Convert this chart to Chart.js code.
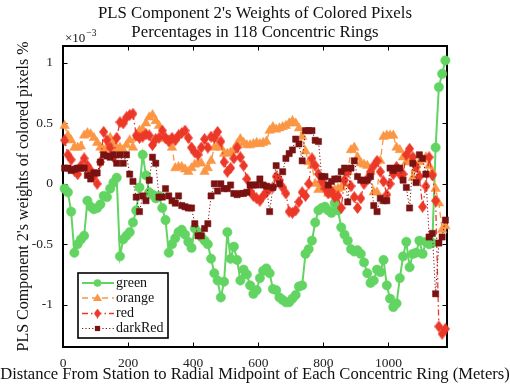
<!DOCTYPE html>
<html><head><meta charset="utf-8">
<script src="https://cdn.jsdelivr.net/npm/chart.js@4"></script>
<style>html,body{margin:0;padding:0;background:#fff;}</style>
</head><body>
<canvas id="c" width="510" height="390"></canvas>
<script>
// Ring radial midpoints (meters)
const distances = [5,15,25,35,45,55,65,75,85,95,105,115,125,135,145,155,165,175,185,195,
205,215,225,235,245,255,265,275,285,295,305,315,325,335,345,355,365,375,385,395,
405,415,425,435,445,455,465,475,485,495,505,515,525,535,545,555,565,575,585,595,
605,615,625,635,645,655,665,675,685,695,705,715,725,735,745,755,765,775,785,795,
805,815,825,835,845,855,865,875,885,895,905,915,925,935,945,955,965,975,985,995,
1005,1015,1025,1035,1045,1055,1065,1075,1085,1095,1105,1115,1125,1135,1145,1155,1165,1175];

// Weights (x 10^-3)
const green = [-0.04,-0.07,-0.23,-0.57,-0.50,-0.46,-0.43,-0.14,-0.19,-0.21,
-0.20,-0.17,-0.10,-0.11,-0.04,0.01,0.05,-0.60,-0.46,-0.43,
-0.40,-0.32,-0.22,-0.03,0.24,0.07,-0.07,-0.09,-0.12,-0.10,
-0.20,-0.30,-0.57,-0.50,-0.45,-0.40,-0.38,-0.42,-0.48,-0.53,
-0.37,-0.40,-0.44,-0.47,-0.50,-0.62,-0.74,-0.80,-0.94,-0.81,
-0.40,-0.62,-0.52,-0.63,-0.80,-0.71,-0.75,-0.84,-0.91,-0.88,
-0.78,-0.72,-0.70,-0.74,-0.87,-0.88,-0.94,-0.96,-0.98,-0.98,
-0.95,-0.92,-0.85,-0.84,-0.58,-0.54,-0.47,-0.32,-0.22,-0.20,
-0.19,-0.22,-0.24,-0.16,-0.22,-0.36,-0.42,-0.47,-0.54,-0.56,
-0.55,-0.58,-0.65,-0.74,-0.82,-0.80,-0.71,-0.73,-0.63,-0.84,
-0.95,-1.02,-0.99,-0.78,-0.60,-0.48,-0.69,-0.58,-0.57,-0.47,
-0.58,-0.48,-0.50,-0.49,0.30,0.80,0.91,1.02];

const orange = [0.48,0.40,0.36,0.30,0.30,0.31,0.40,0.42,0.41,0.38,
0.34,0.30,0.28,0.30,0.38,0.34,0.29,0.30,0.28,0.32,
0.36,0.30,0.38,0.44,0.45,0.50,0.55,0.57,0.52,0.48,
0.40,0.37,0.36,0.30,0.13,0.14,0.14,0.12,0.10,0.13,
0.16,0.17,0.17,0.10,0.13,0.19,0.30,0.31,0.30,0.25,
0.25,0.26,0.28,0.33,0.37,0.34,0.32,0.32,0.33,0.34,
0.33,0.34,0.35,0.44,0.47,0.45,0.46,0.47,0.48,0.50,
0.52,0.50,0.46,0.39,0.27,0.18,0.15,0.00,-0.05,-0.02,
-0.01,-0.08,-0.08,-0.05,-0.04,-0.03,0.00,0.10,0.28,0.30,
0.22,0.17,0.16,0.15,0.10,-0.07,-0.07,0.19,0.39,0.40,
0.40,0.40,0.30,0.28,0.22,0.18,0.18,0.05,0.12,0.18,
0.20,0.22,0.15,0.10,-0.04,-0.16,-0.38,-0.35];

const red = [0.36,0.24,0.20,0.11,0.08,0.15,0.21,0.15,0.11,0.06,
0.00,0.18,0.43,0.36,0.30,0.22,0.38,0.51,0.50,0.55,
0.57,0.58,0.40,0.38,0.39,0.41,0.40,0.32,0.37,0.38,
0.44,0.38,0.35,0.38,0.36,0.40,0.42,0.44,0.38,0.30,
0.26,0.24,0.30,0.37,0.30,0.39,0.38,0.43,0.35,0.18,
0.10,0.13,0.21,0.30,0.22,0.15,0.04,-0.06,-0.10,-0.12,
-0.14,-0.10,-0.07,-0.04,-0.03,0.06,0.03,-0.03,-0.08,-0.23,
-0.24,-0.22,-0.15,-0.07,-0.10,0.00,0.21,0.15,0.08,0.02,
-0.04,-0.08,-0.06,-0.11,-0.10,-0.20,0.03,0.10,-0.02,-0.11,
-0.20,-0.12,0.00,0.04,0.10,0.15,0.19,0.10,0.02,-0.09,
0.00,0.08,0.14,0.08,0.08,0.24,0.29,0.22,0.14,0.06,
-0.19,-0.02,0.22,0.07,-0.14,-1.18,-1.24,-1.20];

const darkRed = [0.13,0.13,0.11,0.12,0.13,0.13,0.13,0.07,0.04,0.09,
0.09,0.18,0.24,0.23,0.22,0.24,0.17,0.24,0.17,0.24,
0.08,0.02,-0.11,-0.23,-0.10,-0.14,0.03,0.22,0.17,-0.11,
-0.11,-0.04,-0.10,-0.14,-0.16,-0.10,-0.18,-0.19,-0.20,-0.20,
-0.33,-0.43,-0.43,-0.37,-0.33,-0.10,0.00,-0.06,0.00,-0.04,
-0.04,-0.01,-0.08,-0.09,-0.08,-0.08,-0.07,-0.01,-0.01,-0.01,
0.04,-0.01,-0.02,-0.23,-0.03,0.15,0.00,0.10,0.21,0.25,
0.28,0.37,0.33,0.19,0.44,0.44,0.44,0.36,0.35,0.06,
0.06,-0.01,0.02,0.04,0.04,0.10,0.13,-0.15,0.13,0.19,
0.06,0.03,0.03,0.03,0.06,-0.18,-0.23,-0.12,-0.14,-0.14,
0.13,0.11,0.13,0.13,0.03,-0.03,-0.20,0.17,0.01,0.24,
0.21,0.08,-0.44,-0.41,-0.91,-0.49,-0.44,-0.30];

const seriesNames = ['green','orange','red','darkRed'];
const xTicks = [0,200,400,600,800,1000];
const yTicks = [-1,-0.5,0,0.5,1];
const titleLines = ["PLS Component 2's Weights of Colored Pixels","Percentages in 118 Concentric Rings"];
const xTitle = "Distance From Station to Radial Midpoint of Each Concentric Ring (Meters)";
const yTitle = "PLS Component 2's weights of colored pixels %";

const C_GREEN = 'rgb(98,212,98)';
const C_ORANGE = 'rgb(250,150,68)';
const C_RED = 'rgb(236,56,40)';
const C_DARK = 'rgb(122,18,18)';
const FONT = '"Liberation Serif", "Times New Roman", serif';

function diamondCanvas(w, h, color) {
  const cv = document.createElement('canvas');
  cv.width = w; cv.height = h;
  const g = cv.getContext('2d');
  g.fillStyle = color;
  g.beginPath();
  g.moveTo(w/2, 0); g.lineTo(w, h/2); g.lineTo(w/2, h); g.lineTo(0, h/2); g.closePath();
  g.fill();
  return cv;
}
const diamondBig = diamondCanvas(9, 12, C_RED);
const diamondSmall = diamondCanvas(7, 10, C_RED);

function pts(arr) { return arr.map((v, i) => ({x: distances[i], y: v})); }

const styles = {
  green:   {color: C_GREEN, width: 2, dash: [], marker: 'circle', r: 4.7},
  orange:  {color: C_ORANGE, width: 1.3, dash: [6,4], marker: 'triangle', r: 5.5},
  red:     {color: C_RED, width: 1.3, dash: [6,3,1.5,3], marker: diamondBig, r: 5},
  darkRed: {color: C_DARK, width: 1, dash: [1.2,2.2], marker: 'rect', r: 4.4}
};
const seriesData = {green, orange, red, darkRed};

const datasets = seriesNames.map((name, idx) => {
  const s = styles[name];
  return {
    label: name,
    data: pts(seriesData[name]),
    borderColor: s.color,
    backgroundColor: s.color,
    borderWidth: s.width,
    borderDash: s.dash,
    pointStyle: s.marker,
    pointRadius: s.r,
    pointBorderWidth: 0.5,
    pointBackgroundColor: s.color,
    pointBorderColor: s.color,
    tension: 0,
    clip: false,
    order: 4 - idx
  };
});

const decor = {
  id: 'decor',
  beforeDatasetsDraw(chart) {
    const {ctx, chartArea: a, scales: {x, y}} = chart;
    ctx.save();
    ctx.strokeStyle = '#000';
    ctx.lineWidth = 1;
    const tl = 4.5;
    xTicks.forEach(v => {
      const px = Math.round(x.getPixelForValue(v)) + 0.5;
      ctx.beginPath();
      ctx.moveTo(px, a.bottom); ctx.lineTo(px, a.bottom - tl);
      ctx.moveTo(px, a.top); ctx.lineTo(px, a.top + tl);
      ctx.stroke();
    });
    yTicks.forEach(v => {
      const py = Math.round(y.getPixelForValue(v)) + 0.5;
      ctx.beginPath();
      ctx.moveTo(a.left, py); ctx.lineTo(a.left + tl, py);
      ctx.moveTo(a.right, py); ctx.lineTo(a.right - tl, py);
      ctx.stroke();
    });
    ctx.lineWidth = 2;
    ctx.strokeRect(a.left, a.top, a.right - a.left, a.bottom - a.top);
    ctx.restore();
  },
  afterDraw(chart) {
    const {ctx, chartArea: a} = chart;
    ctx.save();
    ctx.fillStyle = '#111';
    ctx.textAlign = 'center';
    ctx.textBaseline = 'middle';
    ctx.font = '16.8px ' + FONT;
    const cx = (a.left + a.right) / 2;
    ctx.fillText(titleLines[0], cx, 14);
    ctx.fillText(titleLines[1], cx, 33);
    // exponent label
    ctx.textAlign = 'left';
    ctx.textBaseline = 'alphabetic';
    ctx.font = '13px ' + FONT;
    ctx.fillText('\u00d710', a.left + 2, 42);
    const w = ctx.measureText('\u00d710').width;
    ctx.font = '9.5px ' + FONT;
    ctx.fillText('\u22123', a.left + 2 + w + 1, 36);
    // x title
    ctx.textAlign = 'center';
    ctx.textBaseline = 'middle';
    ctx.font = '16.6px ' + FONT;
    ctx.fillText(xTitle, 255, 375);
    // y title
    ctx.save();
    ctx.translate(24, (a.top + a.bottom) / 2);
    ctx.rotate(-Math.PI / 2);
    ctx.font = '16px ' + FONT;
    ctx.fillText(yTitle, 0, 0);
    ctx.restore();

    // legend
    const bx = 78, by = 273, bw = 90, bh = 65;
    ctx.fillStyle = '#fff';
    ctx.fillRect(bx, by, bw, bh);
    ctx.strokeStyle = '#000';
    ctx.lineWidth = 1.6;
    ctx.strokeRect(bx, by, bw, bh);
    const rowsY = [283, 298, 313.5, 328.5];
    seriesNames.forEach((name, i) => {
      const s = styles[name];
      const ly = rowsY[i];
      ctx.save();
      ctx.strokeStyle = s.color;
      ctx.lineWidth = s.width;
      ctx.setLineDash(s.dash);
      ctx.beginPath();
      ctx.moveTo(82, ly); ctx.lineTo(114, ly);
      ctx.stroke();
      ctx.restore();
      const mx = 97.5;
      ctx.fillStyle = s.color;
      if (name === 'green') {
        ctx.beginPath(); ctx.arc(mx, ly, 3.8, 0, Math.PI * 2); ctx.fill();
      } else if (name === 'orange') {
        ctx.beginPath(); ctx.moveTo(mx, ly - 4.5); ctx.lineTo(mx + 4.5, ly + 3); ctx.lineTo(mx - 4.5, ly + 3); ctx.closePath(); ctx.fill();
      } else if (name === 'red') {
        ctx.drawImage(diamondSmall, mx - 3.5, ly - 5);
      } else {
        ctx.fillRect(mx - 2.6, ly - 2.6, 5.2, 5.2);
      }
      ctx.fillStyle = '#111';
      ctx.textAlign = 'left';
      ctx.textBaseline = 'middle';
      ctx.font = '14px ' + FONT;
      ctx.fillText(name, 116, ly);
    });
    ctx.restore();
  }
};

new Chart(document.getElementById('c'), {
  type: 'line',
  data: {datasets},
  options: {
    responsive: false,
    devicePixelRatio: 1,
    animation: false,
    layout: {padding: {top: 46, right: 63, left: 0, bottom: 0}},
    plugins: {legend: {display: false}, tooltip: {enabled: false}, title: {display: false}},
    scales: {
      x: {
        type: 'linear', min: 0, max: 1180,
        grid: {display: false, drawTicks: false},
        border: {display: false},
        afterBuildTicks: s => { s.ticks = xTicks.map(v => ({value: v})); },
        afterFit: s => { s.height = 43; },
        ticks: {color: '#222', font: {family: FONT, size: 13.5}, padding: 8, maxRotation: 0, autoSkip: false,
          callback: v => String(v)}
      },
      y: {
        type: 'linear', min: -1.35, max: 1.14,
        grid: {display: false, drawTicks: false},
        border: {display: false},
        afterBuildTicks: s => { s.ticks = yTicks.map(v => ({value: v})); },
        afterFit: s => { s.width = 63; },
        ticks: {color: '#222', font: {family: FONT, size: 13.5}, padding: 10, autoSkip: false,
          callback: v => String(v)}
      }
    }
  },
  plugins: [decor]
});
</script>
</body></html>
